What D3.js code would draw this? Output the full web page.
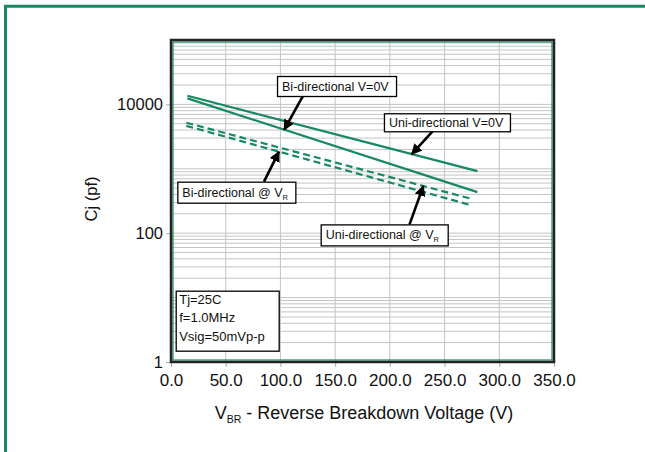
<!DOCTYPE html>
<html><head><meta charset="utf-8">
<script src="https://cdn.jsdelivr.net/npm/d3@7"></script>
<style>
html,body{margin:0;padding:0;background:#fff;}
svg text{font-family:"Liberation Sans",Arial,sans-serif;}
</style></head>
<body><svg id="c" width="645" height="452"></svg>
<script>
// ---- data ----
const xTickValues = [0, 50, 100, 150, 200, 250, 300, 350];
const yTickValues = [1, 100, 10000];
const vbrSolid = [15, 280];
const vbrDashed = [14, 275];
const uniV0 = [13600, 920];
const biV0 = [12400, 435];
const uniVR = [5200, 340];
const biVR = [4650, 270];
const conditions = ["Tj=25C", "f=1.0MHz", "Vsig=50mVp-p"];

const series = [
  {name: "Uni-directional V=0V", x: vbrSolid, y: uniV0, dashed: false},
  {name: "Bi-directional V=0V", x: vbrSolid, y: biV0, dashed: false},
  {name: "Uni-directional @ VR", x: vbrDashed, y: uniVR, dashed: true},
  {name: "Bi-directional @ VR", x: vbrDashed, y: biVR, dashed: true}
];

// annotation layout (data coordinates)
const annotations = [
  {text: "Bi-directional V=0V", sub: null, bx: 96.9, by: 27600, w: 119, h: 20, tailX: 120.5, tailSide: "bottom", tipX: 103.5, series: 1},
  {text: "Uni-directional V=0V", sub: null, bx: 194.6, by: 7280, w: 126, h: 18, tailX: 239, tailSide: "bottom", tipX: 220, series: 0},
  {text: "Bi-directional @ V", sub: "R", bx: 5.8, by: 631, w: 118, h: 21, tailX: 85, tailSide: "top", tipX: 98.7, series: 3},
  {text: "Uni-directional @ V", sub: "R", bx: 136.8, by: 137, w: 127, h: 21, tailX: 218, tailSide: "top", tipX: 230.6, series: 2}
];

const green = "#17895f";
const svg = d3.select("#c");
const L = 171, R = 554, T = 40, B = 362;
const x = d3.scaleLinear().domain([0, 350]).range([L, R]);
const y = d3.scaleLog().domain([1, 100000]).range([B, T]);

// outer frame
svg.append("path").attr("d", `M5.5,452 L5.5,6.2 L645,6.2`).attr("fill", "none")
  .attr("stroke", green).attr("stroke-width", 3);

// grid
const g = svg.append("g");
const minor = [];
for (let e = 0; e < 5; e++) for (let m = 1; m <= 9; m++) minor.push(m * Math.pow(10, e));
g.selectAll("line.hg").data(minor).join("line")
  .attr("x1", L).attr("x2", R).attr("y1", d => y(d)).attr("y2", d => y(d))
  .attr("stroke", "#c4c4c4").attr("stroke-width", 1);
g.selectAll("line.vg").data(xTickValues.slice(1, -1)).join("line")
  .attr("y1", T).attr("y2", B).attr("x1", d => x(d)).attr("x2", d => x(d))
  .attr("stroke", "#c4c4c4").attr("stroke-width", 1);

// axes
const xAxis = svg.append("g").attr("transform", `translate(0,${B})`)
  .call(d3.axisBottom(x).tickValues(xTickValues).tickFormat(d3.format(".1f")).tickSize(5).tickPadding(7));
const yAxis = svg.append("g").attr("transform", `translate(${L},0)`)
  .call(d3.axisLeft(y).tickValues(yTickValues).tickFormat(d3.format("d")).tickSize(5).tickPadding(3));
[xAxis, yAxis].forEach(a => {
  a.select(".domain").remove();
  a.selectAll(".tick line").attr("stroke", "#aaa");
  a.selectAll("text").attr("fill", "#111");
});
xAxis.selectAll("text").style("font-size", "17px");
yAxis.selectAll("text").style("font-size", "16.5px");

// plot border
svg.append("rect").attr("x", L + 2).attr("y", T + 2).attr("width", R - L - 4).attr("height", B - T - 4)
  .attr("fill", "none").attr("stroke", green).attr("stroke-width", 1.2);
svg.append("rect").attr("x", L).attr("y", T).attr("width", R - L).attr("height", B - T)
  .attr("fill", "none").attr("stroke", "#222").attr("stroke-width", 2.5);

// series
const line = d3.line().x(d => x(d[0])).y(d => y(d[1]));
series.forEach(s => {
  svg.append("path").datum(s.x.map((v, i) => [v, s.y[i]]))
    .attr("d", line).attr("fill", "none").attr("stroke", green).attr("stroke-width", 2.2)
    .attr("stroke-dasharray", s.dashed ? "7,4" : null);
});

function valAt(s, vx) {
  const t = (vx - s.x[0]) / (s.x[1] - s.x[0]);
  return Math.pow(10, Math.log10(s.y[0]) + t * (Math.log10(s.y[1]) - Math.log10(s.y[0])));
}

// arrowhead marker
svg.append("defs").append("marker").attr("id", "ah").attr("viewBox", "0 0 10 10")
  .attr("refX", 9).attr("refY", 5).attr("markerWidth", 4.2).attr("markerHeight", 4.2)
  .attr("markerUnits", "strokeWidth").attr("orient", "auto")
  .append("path").attr("d", "M0,0 L10,5 L0,10 z").attr("fill", "#000");

annotations.forEach(a => {
  const bx = x(a.bx), by = y(a.by);
  const s = series[a.series];
  const tx = x(a.tailX), ty = a.tailSide === "bottom" ? by + a.h : by;
  const px = x(a.tipX), py = y(valAt(s, a.tipX));
  svg.append("line").attr("x1", tx).attr("y1", ty).attr("x2", px).attr("y2", py)
    .attr("stroke", "#000").attr("stroke-width", 2.6).attr("marker-end", "url(#ah)");
  svg.append("rect").attr("x", bx + 0.5).attr("y", by + 0.5).attr("width", a.w).attr("height", a.h)
    .attr("fill", "#fff").attr("stroke", "#000").attr("stroke-width", 1.3);
  const t = svg.append("text").attr("x", bx + 5).attr("y", by + a.h / 2 + 4.5)
    .style("font-size", "12.5px").attr("fill", "#111").text(a.text);
  if (a.sub) t.append("tspan").attr("dy", 3).style("font-size", "7.5px").text(a.sub);
});

// conditions box
{
  const bx = x(4.3), by = y(12.8);
  svg.append("rect").attr("x", bx + 0.5).attr("y", by + 0.5).attr("width", 103).attr("height", 60)
    .attr("fill", "#fff").attr("stroke", "#000").attr("stroke-width", 1.3);
  svg.selectAll("text.cond").data(conditions).join("text").attr("class", "cond")
    .attr("x", bx + 3.5).attr("y", (d, i) => by + 13 + i * 18.5)
    .style("font-size", "13px").attr("fill", "#111").text(d => d);
}

// axis titles
svg.append("text").attr("transform", `translate(97,199) rotate(-90)`).attr("text-anchor", "middle")
  .style("font-size", "16.5px").attr("fill", "#111").text("Cj (pf)");
const xt = svg.append("text").attr("x", 364).attr("y", 419).attr("text-anchor", "middle")
  .style("font-size", "18px").attr("fill", "#111");
xt.append("tspan").text("V");
xt.append("tspan").attr("dy", 4).style("font-size", "10.5px").text("BR");
xt.append("tspan").attr("dy", -4).text(" - Reverse Breakdown Voltage (V)");
</script></body></html>
